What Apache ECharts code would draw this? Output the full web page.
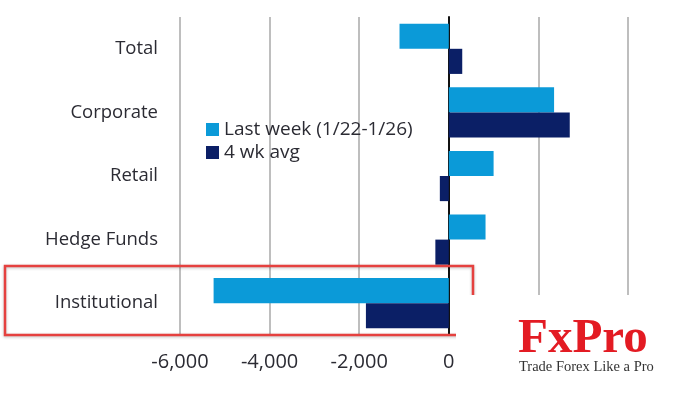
<!DOCTYPE html>
<html>
<head>
<meta charset="utf-8">
<script src="https://cdn.jsdelivr.net/npm/echarts@6/dist/echarts.min.js"></script>
<style>
html,body{margin:0;padding:0;background:#fff;}
#chart{width:700px;height:394px;}
</style>
</head>
<body>
<div id="chart"></div>
<script>
const categories = ['Total', 'Corporate', 'Retail', 'Hedge Funds', 'Institutional'];
const lastWeek = [-1100, 2350, 1000, 820, -5250];
const fourWkAvg = [300, 2700, -200, -300, -1850];
const seriesNames = ['Last week (1/22-1/26)', '4 wk avg'];
const xTicks = { min: -6000, max: 4000, interval: 2000 };

const chart = echarts.init(document.getElementById('chart'));
const font = '"Open Sans", "DejaVu Sans", sans-serif';
chart.setOption({
  animation: false,
  backgroundColor: '#fff',
  grid: { left: 180, right: 72, top: 17, bottom: 59, containLabel: false },
  legend: {
    orient: 'vertical',
    left: 201,
    top: 115,
    itemWidth: 13,
    itemHeight: 13,
    itemGap: 4,
    icon: 'rect',
    textStyle: { fontFamily: font, fontSize: 19, color: '#2b2b33' },
    data: seriesNames
  },
  xAxis: {
    type: 'value',
    min: xTicks.min,
    max: xTicks.max,
    interval: xTicks.interval,
    axisLine: { show: false },
    axisTick: { show: false },
    splitLine: { show: true, lineStyle: { color: '#bebebe', width: 2 } },
    axisLabel: {
      margin: 17,
      fontFamily: font,
      fontSize: 20,
      color: '#2b2b33',
      formatter: v => v > 0 ? '' : (v === 0 ? '0' : '-' + Math.abs(v).toLocaleString('en-US'))
    }
  },
  yAxis: {
    type: 'category',
    inverse: true,
    data: categories,
    axisTick: { show: false },
    axisLine: { show: true, onZero: true, lineStyle: { color: '#111', width: 2 } },
    axisLabel: { margin: 22, fontFamily: font, fontSize: 18.5, color: '#2b2b33' }
  },
  series: [
    {
      name: seriesNames[0], type: 'bar', data: lastWeek,
      itemStyle: { color: '#0b9ad8' },
      barGap: '0%', barCategoryGap: '21%'
    },
    {
      name: seriesNames[1], type: 'bar', data: fourWkAvg,
      itemStyle: { color: '#0b1f66' },
      barGap: '0%', barCategoryGap: '21%'
    }
  ],
  graphic: [
    {
      type: 'rect', z: 100,
      shape: { x: 5, y: 266, width: 468, height: 69 },
      style: { fill: 'none', stroke: '#e5413f', lineWidth: 2.5,
        shadowBlur: 3, shadowColor: 'rgba(0,0,0,0.25)', shadowOffsetY: 1 }
    },
    {
      type: 'rect', z: 101,
      shape: { x: 456, y: 295, width: 244, height: 99 },
      style: { fill: '#fff' }
    },
    {
      type: 'text', z: 102, left: 518, top: 315,
      style: { text: 'FxPro', fontFamily: '"Liberation Serif", serif', fontSize: 49,
        fontWeight: 'bold', fill: '#e31b23' }
    },
    {
      type: 'text', z: 102, left: 519, top: 360,
      style: { text: 'Trade Forex Like a Pro', fontFamily: '"Liberation Serif", serif', fontSize: 14.5,
        fill: '#333' }
    }
  ]
});
</script>
</body>
</html>
